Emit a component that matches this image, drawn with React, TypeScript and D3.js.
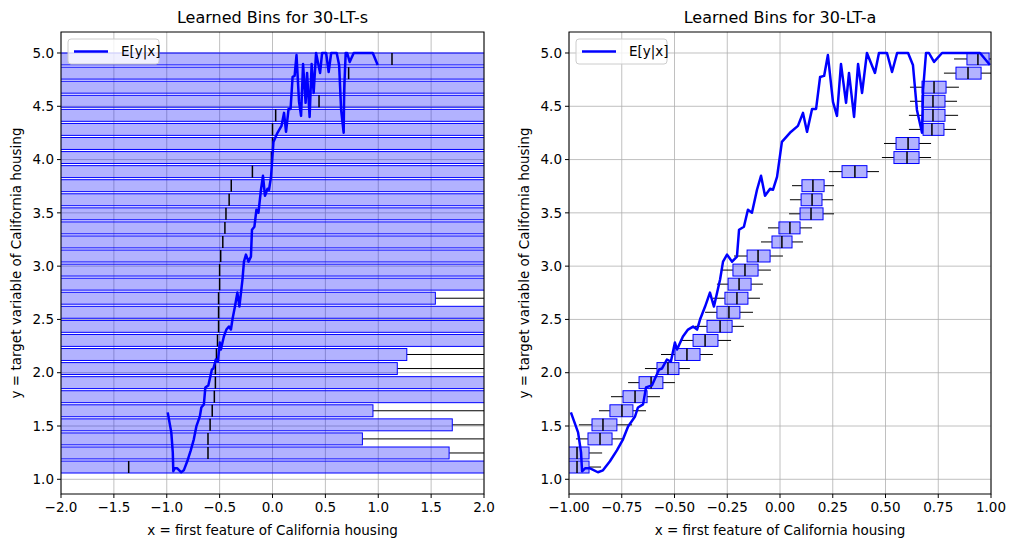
import React from 'react'
import * as d3 from 'd3'

// bin centres (y) shared by both panels
const binCenters = [
  1.115, 1.247, 1.379, 1.511, 1.643, 1.775, 1.907, 2.039, 2.171, 2.303,
  2.435, 2.567, 2.699, 2.831, 2.963, 3.095, 3.227, 3.359, 3.491, 3.623,
  3.755, 3.887, 4.019, 4.151, 4.283, 4.415, 4.547, 4.679, 4.811, 4.944,
]

// 30-LT-s bins
const leftQ1 = [
  -2.6, -2.6, -2.6, -2.6, -2.6, -2.6, -2.6, -2.6, -2.6, -2.6,
  -2.6, -2.6, -2.6, -2.6, -2.6, -2.6, -2.6, -2.6, -2.6, -2.6,
  -2.6, -2.6, -2.6, -2.6, -2.6, -2.6, -2.6, -2.6, -2.6, -2.6,
]
const leftMed = [
  -1.36, -0.61, -0.61, -0.59, -0.57, -0.55, -0.54, -0.54, -0.53, -0.52,
  -0.51, -0.51, -0.51, -0.5, -0.5, -0.49, -0.47, -0.45, -0.44, -0.41,
  -0.39, -0.19, -0.01, 0.0, 0.0, 0.03, 0.44, 0.68, 0.72, 1.13,
]
const leftQ3 = [
  2.6, 1.67, 0.85, 1.7, 0.95, 2.6, 2.6, 1.18, 1.27, 2.6,
  2.6, 2.6, 1.54, 2.6, 2.6, 2.6, 2.6, 2.6, 2.6, 2.6,
  2.6, 2.6, 2.6, 2.6, 2.6, 2.6, 2.6, 2.6, 2.6, 2.6,
]
const leftLo = leftQ1.map(() => -3)
const leftHi = leftQ3.map(() => 3)

// 30-LT-a bins
const rightQ1 = [
  -1.05, -1.05, -0.91, -0.891, -0.806, -0.744, -0.668, -0.583, -0.498, -0.412,
  -0.346, -0.299, -0.261, -0.246, -0.223, -0.156, -0.038, -0.005, 0.095, 0.1,
  0.104, 0.294, 0.54, 0.55, 0.678, 0.678, 0.673, 0.673, 0.834, 0.886,
]
const rightMed = [
  -0.962, -0.962, -0.853, -0.839, -0.749, -0.687, -0.611, -0.531, -0.441, -0.355,
  -0.284, -0.242, -0.204, -0.194, -0.166, -0.104, 0.009, 0.047, 0.147, 0.152,
  0.156, 0.355, 0.602, 0.607, 0.72, 0.725, 0.725, 0.73, 0.891, 0.938,
]
const rightQ3 = [
  -0.905, -0.905, -0.796, -0.773, -0.697, -0.63, -0.555, -0.479, -0.379, -0.294,
  -0.227, -0.19, -0.152, -0.137, -0.104, -0.047, 0.057, 0.095, 0.204, 0.199,
  0.209, 0.412, 0.659, 0.659, 0.777, 0.782, 0.782, 0.787, 0.953, 0.991,
]
const rightLo = [
  -1.2, -1.2, -0.967, -0.953, -0.858, -0.801, -0.72, -0.64, -0.564, -0.474,
  -0.403, -0.355, -0.318, -0.299, -0.28, -0.218, -0.09, -0.057, 0.043, 0.047,
  0.057, 0.232, 0.483, 0.493, 0.611, 0.611, 0.616, 0.616, 0.777, 0.825,
]
const rightHi = [
  -0.848, -0.843, -0.739, -0.701, -0.635, -0.569, -0.498, -0.427, -0.318, -0.232,
  -0.171, -0.128, -0.095, -0.081, -0.043, 0.014, 0.109, 0.152, 0.256, 0.251,
  0.256, 0.469, 0.716, 0.716, 0.834, 0.844, 0.839, 0.848, 1.05, 1.1,
]

// E[y|x]
const curveX = [
  -0.991, -0.957, -0.943, -0.938, -0.924, -0.9, -0.863, -0.839, -0.806, -0.773,
  -0.744, -0.72, -0.687, -0.673, -0.649, -0.635, -0.607, -0.588, -0.573, -0.559,
  -0.536, -0.517, -0.498, -0.488, -0.46, -0.436, -0.412, -0.393, -0.379, -0.355,
  -0.332, -0.313, -0.284, -0.27, -0.251, -0.227, -0.204, -0.194, -0.171, -0.152,
  -0.133, -0.109, -0.09, -0.071, -0.047, -0.033, -0.014, 0.009, 0.047, 0.085,
  0.109, 0.128, 0.152, 0.171, 0.19, 0.209, 0.227, 0.251, 0.27, 0.289,
  0.313, 0.327, 0.351, 0.37, 0.389, 0.412, 0.45, 0.469, 0.507, 0.531,
  0.555, 0.607, 0.63, 0.649, 0.673, 0.678, 0.692, 0.706, 0.73, 0.768,
  0.853, 0.948, 0.995,
]
const curveY = [
  1.628, 1.44, 1.253, 1.075, 1.103, 1.103, 1.066, 1.084, 1.169, 1.272,
  1.375, 1.496, 1.59, 1.674, 1.703, 1.862, 1.881, 1.965, 2.03, 2.04,
  2.124, 2.105, 2.283, 2.218, 2.34, 2.405, 2.433, 2.405, 2.499, 2.621,
  2.752, 2.621, 2.874, 3.042, 3.108, 3.042, 3.089, 3.342, 3.37, 3.529,
  3.501, 3.717, 3.848, 3.66, 3.726, 3.717, 3.838, 4.166, 4.251, 4.316,
  4.438, 4.26, 4.475, 4.475, 4.775, 4.785, 4.981, 4.541, 4.41, 4.897,
  4.532, 4.813, 4.4, 4.897, 4.625, 5.0, 4.813, 5.0, 5.0, 4.822,
  5.0, 5.0, 4.888, 4.466, 4.251, 4.653, 5.0, 5.0, 4.916, 5.0,
  5.0, 5.0, 4.888,
]

const font = 'DejaVu Sans, sans-serif'
const top = 32
const bottom = 494
const yDomain: [number, number] = [0.862, 5.197]
const yTicks = [1.0, 1.5, 2.0, 2.5, 3.0, 3.5, 4.0, 4.5, 5.0]
const boxH = 0.112

type PanelProps = {
  id: string
  left: number
  right: number
  xDomain: [number, number]
  xTicks: number[]
  xFmt: (v: number) => string
  title: string
  q1: number[]
  med: number[]
  q3: number[]
  lo: number[]
  hi: number[]
}

const minus = (s: string) => s.replace('-', '\u2212')

const Panel: React.FC<PanelProps> = (p) => {
  const x = d3.scaleLinear().domain(p.xDomain).range([p.left, p.right])
  const y = d3.scaleLinear().domain(yDomain).range([bottom, top])
  const line = d3
    .line<number>()
    .x((_, i) => x(curveX[i]))
    .y((d) => y(d))
  const hh = (y(0) - y(boxH)) / 2
  return (
    <g>
      <defs>
        <clipPath id={p.id}>
          <rect x={p.left} y={top} width={p.right - p.left} height={bottom - top} />
        </clipPath>
      </defs>
      {p.xTicks.map((t) => (
        <line key={'gx' + t} x1={x(t)} x2={x(t)} y1={top} y2={bottom} stroke="#b0b0b0" strokeWidth={0.8} />
      ))}
      {yTicks.map((t) => (
        <line key={'gy' + t} x1={p.left} x2={p.right} y1={y(t)} y2={y(t)} stroke="#b0b0b0" strokeWidth={0.8} />
      ))}
      <g clipPath={`url(#${p.id})`}>
        {binCenters.map((c, i) => {
          const cy = y(c)
          return (
            <g key={i}>
              <line x1={x(p.lo[i])} x2={x(p.q1[i])} y1={cy} y2={cy} stroke="black" strokeWidth={1} />
              <line x1={x(p.q3[i])} x2={x(p.hi[i])} y1={cy} y2={cy} stroke="black" strokeWidth={1} />
              <rect
                x={x(p.q1[i])}
                y={cy - hh}
                width={x(p.q3[i]) - x(p.q1[i])}
                height={2 * hh}
                fill="rgba(0,0,255,0.3)"
                stroke="blue"
                strokeWidth={1}
              />
              <line x1={x(p.med[i])} x2={x(p.med[i])} y1={cy - hh} y2={cy + hh} stroke="black" strokeWidth={1.5} />
            </g>
          )
        })}
        <path d={line(curveY) || ''} fill="none" stroke="blue" strokeWidth={2.5} strokeLinejoin="round" />
      </g>
      <rect x={p.left} y={top} width={p.right - p.left} height={bottom - top} fill="none" stroke="black" strokeWidth={1} />
      {p.xTicks.map((t) => (
        <g key={'tx' + t} transform={`translate(${x(t)},${bottom})`}>
          <line y2={4} stroke="black" />
          <text y={18} textAnchor="middle" fontSize={13.5} fontFamily={font}>{minus(p.xFmt(t))}</text>
        </g>
      ))}
      {yTicks.map((t) => (
        <g key={'ty' + t} transform={`translate(${p.left},${y(t)})`}>
          <line x2={-4} stroke="black" />
          <text x={-7} dy="0.35em" textAnchor="end" fontSize={13.5} fontFamily={font}>{t.toFixed(1)}</text>
        </g>
      ))}
      <text x={(p.left + p.right) / 2} y={23} textAnchor="middle" fontSize={16} fontFamily={font}>{p.title}</text>
      <text x={(p.left + p.right) / 2} y={535} textAnchor="middle" fontSize={13.5} fontFamily={font}>
        x = first feature of California housing
      </text>
      <text
        transform={`translate(${p.left - 40},${(top + bottom) / 2}) rotate(-90)`}
        textAnchor="middle"
        fontSize={13.5}
        fontFamily={font}
      >
        y = target variable of California housing
      </text>
      <g transform={`translate(${p.left + 7},${top + 7})`}>
        <rect width={91} height={25} rx={3} fill="white" fillOpacity={0.8} stroke="#cccccc" />
        <line x1={6} x2={40} y1={12.5} y2={12.5} stroke="blue" strokeWidth={2.5} />
        <text x={53} y={12.5} dy="0.35em" fontSize={13.5} fontFamily={font}>E[y|x]</text>
      </g>
    </g>
  )
}

const App: React.FC = () => (
  <svg width={1016} height={547} style={{ position: 'absolute', left: 0, top: 0, background: 'white' }}>
    <Panel
      id="clipL"
      left={61}
      right={484}
      xDomain={[-2, 2]}
      xTicks={[-2, -1.5, -1, -0.5, 0, 0.5, 1, 1.5, 2]}
      xFmt={(v) => v.toFixed(1)}
      title="Learned Bins for 30-LT-s"
      q1={leftQ1}
      med={leftMed}
      q3={leftQ3}
      lo={leftLo}
      hi={leftHi}
    />
    <Panel
      id="clipR"
      left={569}
      right={991}
      xDomain={[-1, 1]}
      xTicks={[-1, -0.75, -0.5, -0.25, 0, 0.25, 0.5, 0.75, 1]}
      xFmt={(v) => v.toFixed(2)}
      title="Learned Bins for 30-LT-a"
      q1={rightQ1}
      med={rightMed}
      q3={rightQ3}
      lo={rightLo}
      hi={rightHi}
    />
  </svg>
)

export default App
